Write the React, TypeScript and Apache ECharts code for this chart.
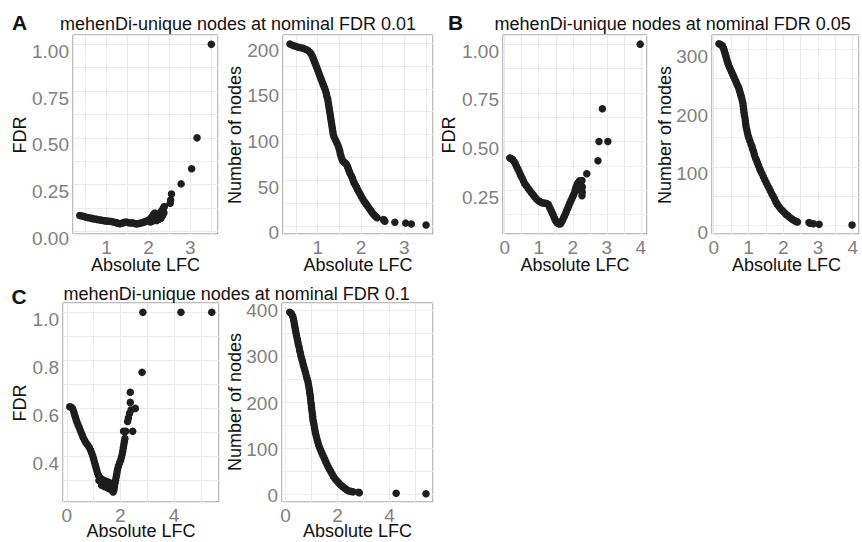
import React, { useEffect, useRef } from "react";
import * as echarts from "echarts";

// ---------- data: [absolute LFC threshold, value] ----------
const fdrA: [number, number][] = [
  [0.36, 0.085], [0.42, 0.082], [0.47, 0.079], [0.52, 0.076], [0.57, 0.073], [0.62, 0.071],
  [0.67, 0.068], [0.72, 0.066], [0.77, 0.064], [0.82, 0.062], [0.87, 0.06], [0.92, 0.058],
  [0.97, 0.056], [1.02, 0.055], [1.07, 0.054], [1.12, 0.053], [1.17, 0.05], [1.22, 0.047],
  [1.27, 0.044], [1.32, 0.041], [1.37, 0.044], [1.42, 0.048], [1.47, 0.05], [1.52, 0.047],
  [1.57, 0.045], [1.62, 0.046], [1.67, 0.042], [1.72, 0.04], [1.77, 0.042], [1.82, 0.045],
  [1.87, 0.048], [1.92, 0.052], [1.97, 0.056], [2.02, 0.062], [2.06, 0.07], [2.09, 0.08],
  [2.12, 0.09], [2.15, 0.098], [2.18, 0.09], [2.21, 0.078], [2.24, 0.085], [2.27, 0.095],
  [2.3, 0.105], [2.33, 0.115], [2.36, 0.125], [2.38, 0.133],
  [2.05, 0.05], [2.1, 0.055], [2.15, 0.06], [2.2, 0.058], [2.25, 0.065], [2.3, 0.07],
  [2.34, 0.085], [2.37, 0.1],
  [2.52, 0.15], [2.53, 0.168], [2.55, 0.2], [2.78, 0.254], [3.03, 0.335], [3.16, 0.5], [3.5, 1.0],
];

const nodesA: [number, number][] = [
  [0.36, 199], [0.43, 197.5], [0.49, 196.5], [0.55, 195.5], [0.61, 195], [0.67, 194.3],
  [0.73, 193], [0.78, 191.8], [0.82, 190], [0.85, 188], [0.88, 185.5], [0.9, 183],
  [0.92, 180.5], [0.94, 178], [0.96, 175.5], [0.98, 173], [1.0, 170.5], [1.02, 168],
  [1.04, 165.5], [1.06, 163], [1.08, 160.5], [1.1, 158], [1.12, 155.5], [1.14, 153],
  [1.16, 150.5], [1.18, 148], [1.2, 145], [1.21, 142], [1.23, 139], [1.24, 136], [1.25, 133],
  [1.26, 130], [1.27, 127], [1.28, 124], [1.29, 121], [1.3, 118], [1.31, 115], [1.32, 112],
  [1.33, 109], [1.34, 106], [1.35, 103], [1.36, 100], [1.38, 97], [1.41, 94], [1.44, 91],
  [1.47, 88], [1.49, 85], [1.51, 82], [1.52, 79], [1.54, 76], [1.56, 73], [1.58, 71],
  [1.61, 69.5], [1.64, 68.5], [1.67, 67], [1.69, 64.5], [1.71, 62], [1.73, 59.5], [1.75, 57],
  [1.78, 54.5], [1.8, 52], [1.82, 49.5], [1.84, 47], [1.87, 44.5], [1.9, 42], [1.92, 39.5],
  [1.95, 37], [1.98, 34.5], [2.01, 32], [2.04, 29.5], [2.07, 27], [2.1, 25], [2.13, 23],
  [2.16, 21], [2.19, 19], [2.22, 17], [2.25, 15], [2.28, 13], [2.31, 11.5], [2.34, 10], [2.37, 9],
  [2.52, 7], [2.53, 6], [2.55, 5], [2.78, 4], [3.03, 3], [3.16, 2], [3.5, 1],
];

const fdrB: [number, number][] = [
  [0.15, 0.415], [0.19, 0.413], [0.23, 0.408], [0.27, 0.398], [0.31, 0.386], [0.35, 0.372],
  [0.39, 0.357], [0.43, 0.342], [0.47, 0.327], [0.51, 0.312], [0.55, 0.297], [0.59, 0.283],
  [0.64, 0.271], [0.69, 0.259], [0.74, 0.247], [0.79, 0.236], [0.84, 0.225], [0.89, 0.214],
  [0.94, 0.204], [0.99, 0.196], [1.04, 0.19], [1.09, 0.186], [1.14, 0.184], [1.19, 0.183],
  [1.24, 0.181], [1.28, 0.176], [1.31, 0.165], [1.34, 0.154], [1.37, 0.143], [1.4, 0.131],
  [1.43, 0.119], [1.46, 0.107], [1.49, 0.096], [1.52, 0.087], [1.56, 0.08], [1.6, 0.076],
  [1.64, 0.078], [1.67, 0.086], [1.7, 0.097], [1.73, 0.108], [1.76, 0.119], [1.79, 0.131],
  [1.82, 0.145], [1.85, 0.157], [1.88, 0.17], [1.91, 0.183], [1.94, 0.195], [1.97, 0.206],
  [2.0, 0.217], [2.03, 0.228], [2.06, 0.243], [2.08, 0.256], [2.1, 0.268], [2.13, 0.28],
  [2.16, 0.29], [2.2, 0.298], [2.23, 0.29],
  [2.27, 0.3], [2.28, 0.267], [2.28, 0.24], [2.27, 0.222], [2.22, 0.25], [2.25, 0.27],
  [2.41, 0.334], [2.74, 0.401], [2.77, 0.5], [2.87, 0.668], [3.03, 0.5], [3.98, 1.0],
];

const nodesB: [number, number][] = [
  [0.15, 309.5], [0.2, 308], [0.25, 306], [0.28, 302], [0.3, 298], [0.32, 294], [0.34, 290],
  [0.36, 286], [0.38, 282], [0.4, 278], [0.42, 274], [0.45, 270], [0.48, 266], [0.51, 262],
  [0.54, 258], [0.57, 254], [0.6, 250], [0.63, 246], [0.66, 242], [0.69, 238], [0.72, 234],
  [0.74, 230], [0.76, 226], [0.78, 222], [0.8, 218], [0.82, 213], [0.84, 208], [0.85, 203],
  [0.86, 198], [0.87, 193], [0.88, 188], [0.9, 183], [0.91, 178], [0.92, 173], [0.93, 168],
  [0.95, 163], [0.97, 158], [0.99, 153], [1.01, 149], [1.04, 144], [1.07, 139], [1.1, 135],
  [1.12, 130], [1.15, 125], [1.17, 120], [1.2, 115], [1.23, 111], [1.26, 106], [1.29, 102],
  [1.32, 97], [1.35, 93], [1.39, 88], [1.43, 83], [1.47, 78], [1.51, 73], [1.55, 68],
  [1.59, 64], [1.63, 59], [1.67, 54], [1.71, 50], [1.75, 45], [1.79, 40], [1.83, 36],
  [1.88, 32], [1.93, 28], [1.98, 25], [2.03, 22], [2.08, 19], [2.13, 17], [2.18, 14],
  [2.23, 12], [2.28, 10], [2.33, 8], [2.38, 7], [2.41, 6],
  [2.74, 5], [2.77, 4], [2.87, 3], [3.03, 2], [3.98, 1],
];

const fdrC: [number, number][] = [
  [0.11, 0.607], [0.17, 0.605], [0.22, 0.598], [0.26, 0.586], [0.29, 0.575], [0.32, 0.564],
  [0.35, 0.553], [0.38, 0.543], [0.42, 0.532], [0.46, 0.521], [0.5, 0.51], [0.54, 0.499],
  [0.58, 0.488], [0.62, 0.477], [0.67, 0.466], [0.72, 0.456], [0.78, 0.447], [0.84, 0.437],
  [0.89, 0.426], [0.93, 0.414], [0.97, 0.402], [1.0, 0.39], [1.03, 0.378], [1.06, 0.366],
  [1.09, 0.354], [1.12, 0.342], [1.15, 0.33], [1.19, 0.319], [1.24, 0.311], [1.3, 0.305],
  [1.36, 0.301], [1.42, 0.298], [1.48, 0.295], [1.54, 0.293], [1.6, 0.29], [1.65, 0.286],
  [1.69, 0.275], [1.71, 0.262], [1.73, 0.252], [1.76, 0.262], [1.78, 0.275], [1.8, 0.288],
  [1.82, 0.3], [1.84, 0.312], [1.86, 0.324], [1.88, 0.336], [1.9, 0.348], [1.93, 0.36],
  [1.97, 0.372], [2.01, 0.384], [2.04, 0.396], [2.07, 0.41], [2.09, 0.422], [2.11, 0.436],
  [2.13, 0.45], [2.15, 0.462], [2.17, 0.475],
  [1.2, 0.3], [1.3, 0.28], [1.4, 0.275], [1.45, 0.285], [1.5, 0.27], [1.58, 0.265],
  [1.6, 0.28], [1.65, 0.262], [1.68, 0.27], [1.72, 0.265], [1.75, 0.26],
  [2.12, 0.505], [2.2, 0.505], [2.46, 0.505], [2.27, 0.545], [2.3, 0.56], [2.34, 0.579],
  [2.4, 0.593], [2.56, 0.6], [2.37, 0.625], [2.37, 0.667], [2.81, 0.75],
  [2.84, 1.0], [4.26, 1.0], [5.41, 1.0],
];

const nodesC: [number, number][] = [
  [0.16, 395], [0.22, 392], [0.27, 387], [0.3, 381], [0.32, 375], [0.34, 368], [0.36, 362],
  [0.38, 356], [0.4, 350], [0.42, 344], [0.45, 337], [0.47, 331], [0.49, 325], [0.52, 319],
  [0.54, 312], [0.57, 306], [0.59, 300], [0.62, 294], [0.65, 288], [0.68, 281], [0.71, 275],
  [0.74, 269], [0.77, 263], [0.8, 256], [0.83, 250], [0.86, 244], [0.88, 238], [0.9, 231],
  [0.92, 225], [0.93, 219], [0.95, 213], [0.96, 207], [0.97, 200], [0.99, 194], [1.0, 188],
  [1.01, 182], [1.03, 175], [1.04, 169], [1.05, 163], [1.07, 157], [1.09, 151], [1.11, 144],
  [1.13, 138], [1.15, 132], [1.18, 126], [1.21, 119], [1.24, 113], [1.27, 107], [1.31, 101],
  [1.35, 95.5], [1.39, 90], [1.43, 85], [1.47, 80], [1.51, 75], [1.55, 70], [1.6, 64],
  [1.64, 59], [1.69, 54], [1.74, 49], [1.79, 44], [1.85, 38], [1.91, 33], [1.97, 29],
  [2.04, 25], [2.1, 21], [2.17, 17.5], [2.24, 14.5], [2.3, 11.5], [2.37, 9], [2.44, 7],
  [2.52, 6], [2.6, 5], [2.81, 4], [2.84, 3], [4.26, 2], [5.41, 1],
];

// ---------- tick settings ----------
const xTicksAB = { major: 1, minor: 0.5 };
const xTicksC = { major: 2, minor: 1 };

const titles = [
  "mehenDi-unique nodes at nominal FDR 0.01",
  "mehenDi-unique nodes at nominal FDR 0.05",
  "mehenDi-unique nodes at nominal FDR 0.1",
];
const panelLetters = ["A", "B", "C"];

const FONT = "'Liberation Sans', Arial, Helvetica, sans-serif";
const GRID_COLOR = "#ebebeb";
const TICK_COLOR = "#7f7f7f";

type Panel = {
  data: [number, number][];
  box: [number, number, number, number];
  xr: [number, number];
  yr: [number, number];
  xt: { major: number; minor: number };
  yt: { major: number; minor: number };
  xDec: number;
  yDec: number;
  shift: number;
};

const panels: Panel[] = [
  { data: fdrA, box: [73, 35, 145, 199], xr: [0.2, 3.66], yr: [-0.014, 1.05], xt: xTicksAB, yt: { major: 0.25, minor: 0.125 }, xDec: 0, yDec: 2, shift: 7 },
  { data: nodesA, box: [283, 35, 150, 199], xr: [0.2, 3.66], yr: [-8.9, 208.9], xt: xTicksAB, yt: { major: 50, minor: 25 }, xDec: 0, yDec: 0, shift: 7 },
  { data: fdrB, box: [503, 35, 144, 199], xr: [-0.05, 4.18], yr: [0.025, 1.047], xt: xTicksAB, yt: { major: 0.25, minor: 0.125 }, xDec: 0, yDec: 2, shift: 7 },
  { data: nodesB, box: [712, 35, 149, 199], xr: [-0.05, 4.18], yr: [-14.4, 324.4], xt: xTicksAB, yt: { major: 100, minor: 50 }, xDec: 0, yDec: 0, shift: 7 },
  { data: fdrC, box: [63, 303, 156, 199], xr: [-0.14, 5.68], yr: [0.21, 1.039], xt: xTicksC, yt: { major: 0.2, minor: 0.1 }, xDec: 0, yDec: 1, shift: 7 },
  { data: nodesC, box: [282, 303, 151, 199], xr: [-0.14, 5.68], yr: [-17, 415], xt: xTicksC, yt: { major: 100, minor: 50 }, xDec: 0, yDec: 0, shift: 1 },
];

const isMajor = (v: number, major: number) => Math.abs(v / major - Math.round(v / major)) < 1e-6;

function buildOption() {
  const grid: any[] = [];
  const xAxis: any[] = [];
  const yAxis: any[] = [];
  const series: any[] = [];
  panels.forEach((p, i) => {
    grid.push({
      left: p.box[0], top: p.box[1], width: p.box[2], height: p.box[3],
      show: true, borderColor: "#7a7a7a", borderWidth: 1, backgroundColor: "#fff",
      containLabel: false,
    });
    xAxis.push({
      type: "value", gridIndex: i, min: p.xr[0], max: p.xr[1],
      minInterval: p.xt.minor, maxInterval: p.xt.minor,
      axisLine: { show: false }, axisTick: { show: false },
      splitLine: { show: true, lineStyle: { color: GRID_COLOR, width: 1 } },
      axisLabel: {
        color: TICK_COLOR, fontSize: 19, fontFamily: FONT, margin: 6, lineHeight: 15,
        formatter: (v: number) => (isMajor(v, p.xt.major) ? v.toFixed(p.xDec) : ""),
      },
    });
    yAxis.push({
      type: "value", gridIndex: i, min: p.yr[0], max: p.yr[1],
      minInterval: p.yt.minor, maxInterval: p.yt.minor,
      axisLine: { show: false }, axisTick: { show: false },
      splitLine: { show: true, lineStyle: { color: GRID_COLOR, width: 1 } },
      axisLabel: {
        color: TICK_COLOR, fontSize: 19, fontFamily: FONT, margin: 4,
        verticalAlign: "top", lineHeight: p.shift * 2,
        formatter: (v: number) => (isMajor(v, p.yt.major) ? v.toFixed(p.yDec) : ""),
      },
    });
    series.push({
      type: "scatter", xAxisIndex: i, yAxisIndex: i, data: p.data,
      symbolSize: 7.5, itemStyle: { color: "#1e1e1e", opacity: 1 }, silent: true, z: 3,
    });
  });

  const txt = (x: number, y: number, text: string, extra: any = {}) => ({
    type: "text", x, y, silent: true,
    style: { text, fill: "#111", font: `18px ${FONT}`, lineHeight: 14, align: "center", verticalAlign: "middle", ...extra },
  });
  const rot = (x: number, y: number, text: string) => ({
    ...txt(x, y, text), rotation: Math.PI / 2,
  });

  const graphic: any[] = [
    txt(19.5, 22.7, panelLetters[0], { font: `bold 21px ${FONT}` }),
    txt(455.5, 22.7, panelLetters[1], { font: `bold 21px ${FONT}` }),
    txt(19, 296, panelLetters[2], { font: `bold 21px ${FONT}` }),
    txt(238, 24.3, titles[0]),
    txt(672.7, 24.3, titles[1]),
    txt(236.7, 293.5, titles[2]),
    txt(145.5, 265, "Absolute LFC"),
    txt(358, 265, "Absolute LFC"),
    txt(575, 265, "Absolute LFC"),
    txt(786.5, 265, "Absolute LFC"),
    txt(141, 530.5, "Absolute LFC"),
    txt(357.5, 530.5, "Absolute LFC"),
    rot(20, 135, "FDR"),
    rot(235, 135, "Number of nodes"),
    rot(449, 135, "FDR"),
    rot(665, 135, "Number of nodes"),
    rot(19.5, 403, "FDR"),
    rot(235, 402, "Number of nodes"),
  ];

  return {
    animation: false,
    backgroundColor: "#ffffff",
    grid, xAxis, yAxis, series, graphic,
  };
}

export default function App() {
  const ref = useRef<HTMLDivElement>(null);
  useEffect(() => {
    if (!ref.current) return;
    const chart = echarts.init(ref.current, undefined, { renderer: "svg" });
    chart.setOption(buildOption() as any);
    return () => chart.dispose();
  }, []);
  return (
    <div
      ref={ref}
      style={{ position: "absolute", left: 0, top: 0, width: 862, height: 542, background: "#fff" }}
    />
  );
}
